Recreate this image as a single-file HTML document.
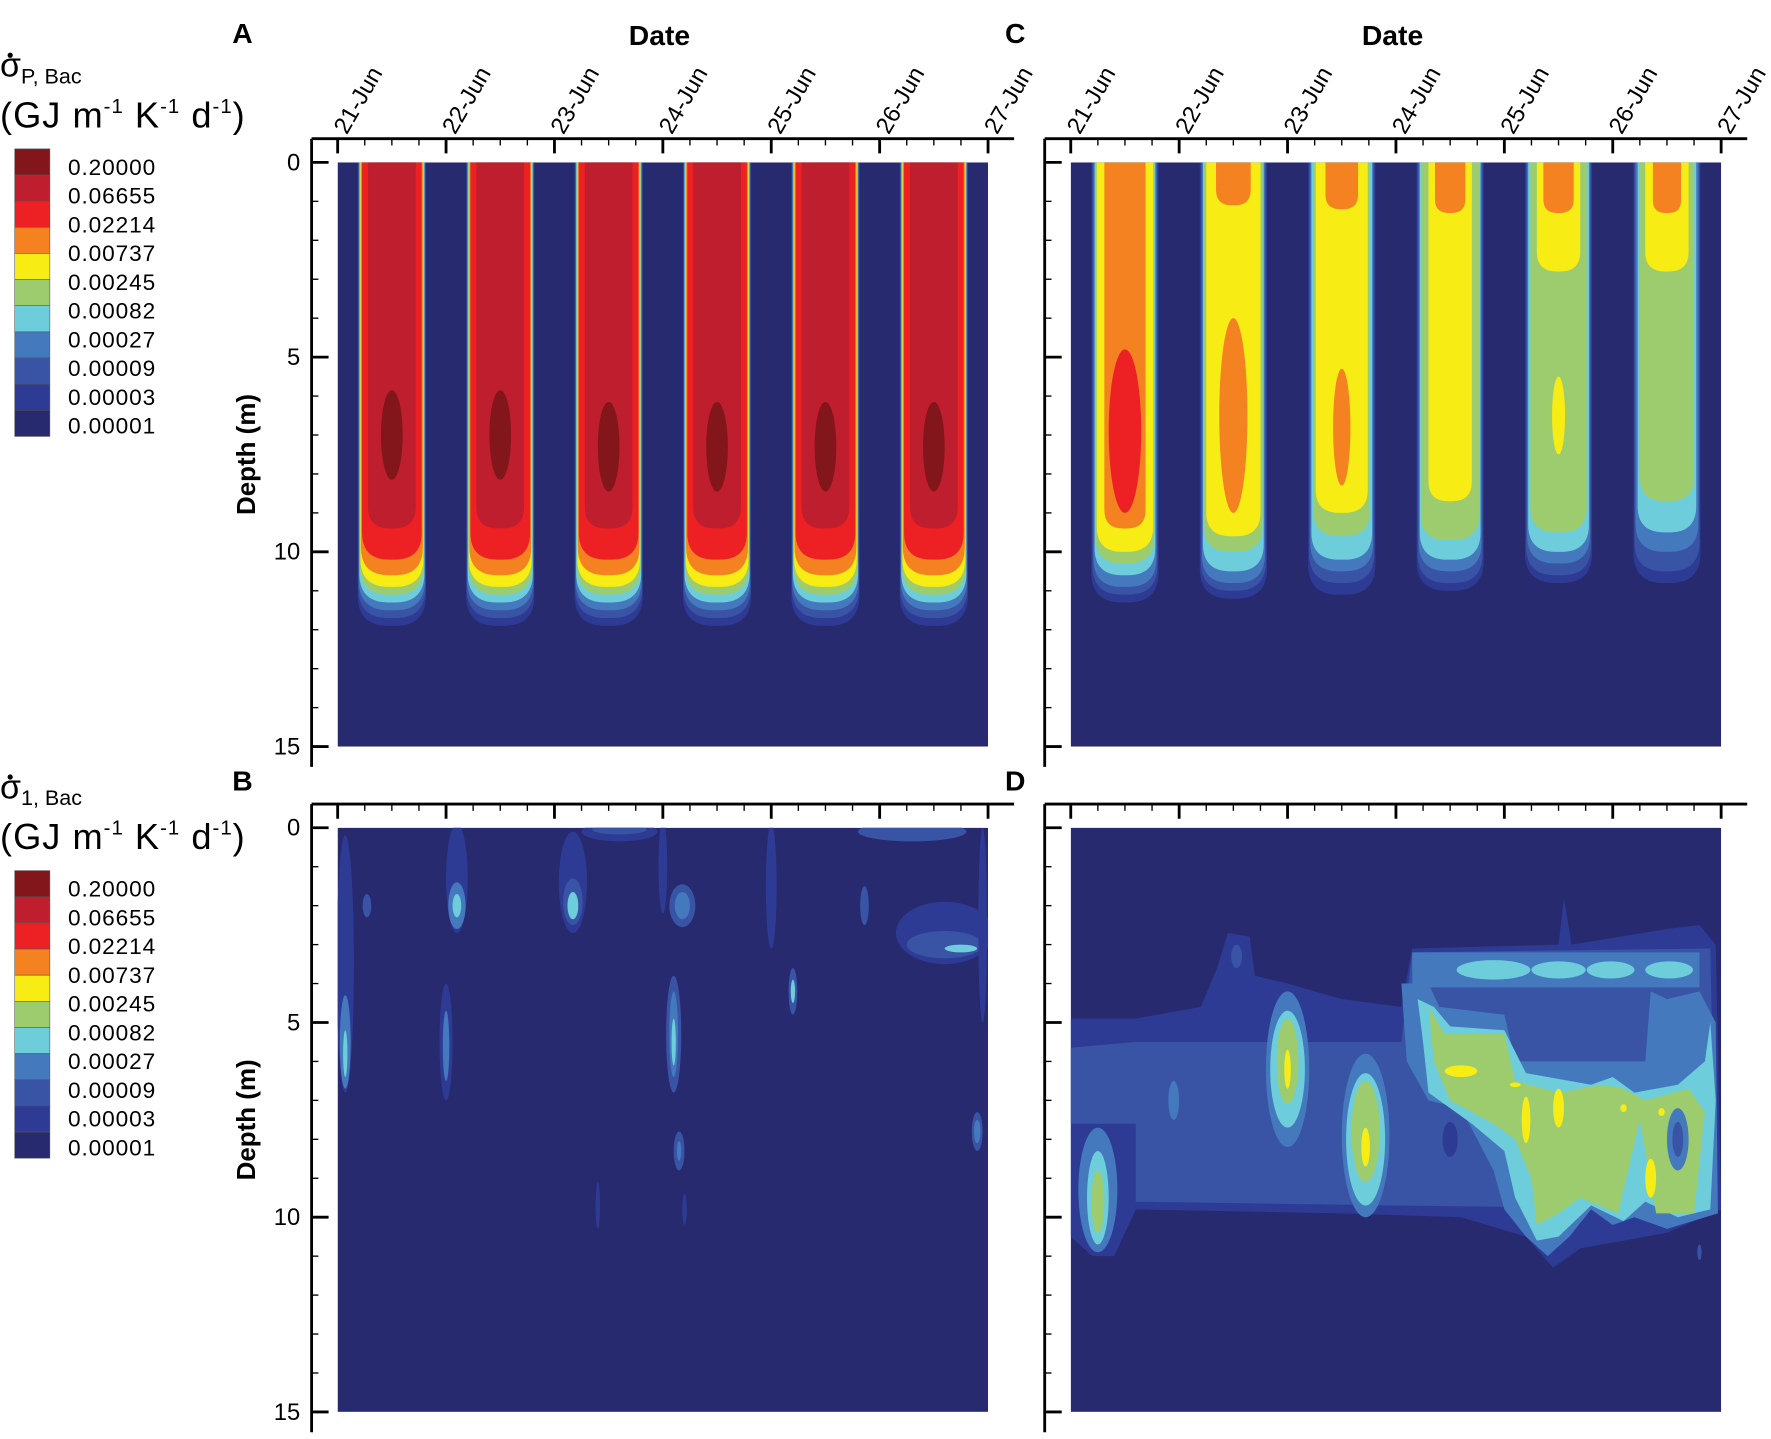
<!DOCTYPE html>
<html><head><meta charset="utf-8"><style>
html,body{margin:0;padding:0;background:#fff;}
svg{display:block;font-family:"Liberation Sans",Arial,sans-serif;}
</style></head><body>
<svg id="fig" width="1771" height="1439" viewBox="0 0 1563 1276" preserveAspectRatio="none" xmlns="http://www.w3.org/2000/svg"></svg>
<script>
// ---- data ----
const levelColors = ["#272a6f","#2e3b95","#3954a4","#4479be","#6dcddb","#9dcc6f","#f7ec13","#f58220","#ed2024","#be1e2d","#82161a"];
const legendLabels = ["0.20000","0.06655","0.02214","0.00737","0.00245","0.00082","0.00027","0.00009","0.00003","0.00001"];
const dateLabels = ["21-Jun","22-Jun","23-Jun","24-Jun","25-Jun","26-Jun","27-Jun"];
const depthTicks = [0,5,10,15];
// Panel A: columns per day; level, bottom depth, half-width (days)
const aDays = [21,22,23,24,25,26];
const aLevels = [1,2,3,4,5,6,7,8,9];
const aBottoms = [11.9,11.7,11.5,11.3,11.1,10.9,10.6,10.2,9.4];
const aHalfW = [0.315,0.31,0.305,0.30,0.295,0.29,0.285,0.275,0.22];
const aCoreDepth = [7.0,7.0,7.3,7.3,7.3,7.3];
// Panel C: [dayIndex, level, top, bottom, halfWidth, kind]
const cShapes = [
 [0,1,0,11.3,.31,"c"],[0,2,0,11.1,.30,"c"],[0,3,0,10.9,.29,"c"],[0,4,0,10.6,.28,"c"],[0,5,0,10.3,.27,"c"],[0,6,0,10.0,.26,"c"],[0,7,0,9.4,.19,"c"],[0,8,4.8,9.0,.15,"e"],
 [1,1,0,11.2,.31,"c"],[1,2,0,11.0,.30,"c"],[1,3,0,10.8,.29,"c"],[1,4,0,10.5,.28,"c"],[1,5,0,10.0,.27,"c"],[1,6,0,9.6,.25,"c"],[1,7,0,1.1,.16,"c"],[1,7,4.0,9.0,.13,"e"],
 [2,1,0,11.1,.31,"c"],[2,2,0,10.8,.30,"c"],[2,3,0,10.5,.29,"c"],[2,4,0,10.2,.28,"c"],[2,5,0,9.6,.26,"c"],[2,6,0,9.0,.24,"c"],[2,7,0,1.2,.15,"c"],[2,7,5.3,8.3,.08,"e"],
 [3,1,0,11.0,.31,"c"],[3,2,0,10.8,.30,"c"],[3,3,0,10.5,.29,"c"],[3,4,0,10.2,.28,"c"],[3,5,0,9.7,.27,"c"],[3,6,0,8.7,.20,"c"],[3,7,0,1.3,.14,"c"],
 [4,1,0,10.8,.31,"c"],[4,2,0,10.6,.30,"c"],[4,3,0,10.3,.29,"c"],[4,4,0,10.0,.28,"c"],[4,5,0,9.5,.26,"c"],[4,6,0,2.8,.20,"c"],[4,6,5.5,7.5,.06,"e"],[4,7,0,1.3,.14,"c"],
 [5,1,0,10.8,.31,"c"],[5,2,0,10.5,.30,"c"],[5,3,0,10.0,.29,"c"],[5,4,0,9.5,.27,"c"],[5,5,0,8.7,.25,"c"],[5,6,0,2.8,.20,"c"],[5,7,0,1.3,.13,"c"]
];
// Panel B blobs: [day, depth, rxDays, ryM, level]
const bBlobs = [
 [21.07,3.5,.08,3.3,1],[21.07,5.5,.05,1.2,3],[21.07,5.8,.02,.6,4],[21.27,2.0,.04,.3,2],
 [22.1,1.3,.1,1.4,1],[22.1,2.0,.08,.6,3],[22.1,2.0,.04,.3,4],
 [23.17,1.4,.13,1.3,1],[23.17,1.9,.09,.6,2],[23.17,2.0,.05,.35,4],
 [23.6,0.1,.35,.25,1],[23.6,0.05,.25,.12,2],
 [24.0,1.0,.04,1.2,1],[24.18,2.0,.12,.55,2],[24.18,2.0,.07,.35,3],
 [24.1,5.3,.07,1.5,2],[24.1,5.3,.04,1.1,3],[24.1,5.5,.02,.6,4],
 [25.0,1.5,.05,1.6,1],[25.2,4.2,.04,.6,2],[25.2,4.2,.02,.3,4],
 [26.3,0.1,.5,.25,2],[26.6,2.7,.45,.8,1],[26.6,3.0,.35,.35,2],[26.75,3.1,.15,.1,4],[26.95,2.5,.04,2.5,1],
 [22.0,5.5,.06,1.5,1],[22.0,5.6,.03,.9,3],[24.15,8.3,.05,.5,2],[24.15,8.3,.02,.25,3],
 [23.4,9.7,.02,.6,1],[24.2,9.8,.02,.4,1],[26.9,7.8,.05,.5,2],[26.9,7.8,.03,.3,3],[25.86,2.0,.04,.5,2]
];
// Panel D polygons: [day, depth] vertices
const dL1 = [[21,4.9],[21.6,4.9],[22.2,4.6],[22.35,3.6],[22.45,2.7],[22.65,2.8],[22.7,3.8],[23.0,4.0],[23.5,4.4],[24.05,4.6],[24.15,3.1],[25.5,3.0],[25.55,1.8],[25.62,3.0],[26.5,2.6],[26.8,2.5],[26.95,3.0],[27,9.8],[26.5,10.4],[25.7,10.8],[25.45,11.3],[25.2,10.5],[24.6,10.0],[23.5,9.9],[21.6,9.8],[21.4,11.0],[21.2,11.0],[21,10.5]];
const dL2 = [[21,5.65],[21.6,5.5],[24.05,5.5],[24.15,3.2],[26.9,3.1],[26.95,9.8],[24.0,9.7],[21.6,9.6],[21.6,7.6],[21,7.6]];
const dL3 = [[24.05,4.0],[24.3,4.0],[24.4,4.6],[25.0,4.8],[25.1,6.0],[26.3,6.0],[26.35,4.2],[26.5,4.4],[26.8,4.2],[26.95,5.0],[26.97,9.9],[26.5,10.3],[26.2,10.0],[26.0,10.2],[25.8,9.8],[25.6,10.5],[25.4,11.0],[25.2,10.5],[25.0,9.8],[24.9,8.8],[24.6,7.2],[24.3,7.0],[24.1,6.0]];
const dL3Band = [[24.15,3.2],[26.8,3.2],[26.8,4.1],[24.15,4.1]];
const dL4 = [[24.2,4.4],[24.35,4.6],[24.5,5.1],[25.0,5.2],[25.2,6.3],[25.8,6.6],[26.0,6.4],[26.2,6.8],[26.6,6.6],[26.85,6.0],[26.9,5.0],[26.95,7.0],[26.9,9.8],[26.6,10.0],[26.3,9.6],[26.1,10.1],[25.8,9.7],[25.5,10.5],[25.3,10.6],[25.1,9.5],[25.0,8.3],[24.7,7.6],[24.3,6.8],[24.25,5.5]];
const dL5 = [[24.3,4.6],[24.45,5.3],[25.0,5.3],[25.1,6.5],[25.5,6.8],[25.9,6.6],[26.1,6.7],[26.3,7.0],[26.7,6.7],[26.85,7.3],[26.75,9.9],[26.4,9.9],[26.25,7.5],[26.05,9.9],[25.7,9.5],[25.5,9.9],[25.3,10.2],[25.25,9.0],[25.1,8.0],[24.9,7.6],[24.5,7.0],[24.35,6.0]];
// Panel D ellipse blobs: [day, depth, rxDays, ryM, level]
const dBlobs = [
 [24.5,8.0,.07,.45,1],[26.6,8.0,.1,.8,3],[26.6,8.0,.05,.45,2],
 [24.9,3.65,.34,.25,4],[25.5,3.65,.25,.22,4],[25.98,3.65,.22,.22,4],[26.52,3.65,.22,.22,4],
 [23.0,6.2,.2,2.0,3],[23.0,6.2,.16,1.5,4],[23.0,6.0,.1,1.1,5],[23.0,6.2,.03,.5,6],
 [23.72,7.9,.22,2.1,3],[23.72,8.0,.18,1.7,4],[23.72,7.8,.13,1.3,5],[23.72,8.2,.04,.5,6],
 [21.25,9.3,.18,1.6,3],[21.25,9.5,.1,1.2,4],[21.25,9.6,.06,.8,5],
 [21.95,7.0,.05,.5,3],[22.53,3.3,.05,.3,2],[26.8,10.9,.02,.2,2],
 [24.6,6.25,.15,.15,6],[25.1,6.6,.05,.06,6],[25.2,7.5,.04,.6,6],[25.5,7.2,.05,.5,6],[26.1,7.2,.03,.1,6],[26.45,7.3,.03,.1,6],[26.35,9.0,.05,.5,6]
];
// ---- drawing ----
const NS="http://www.w3.org/2000/svg";
const svg=document.getElementById("fig");
function mk(tag,attrs,parent){const e=document.createElementNS(NS,tag);for(const k in attrs)e.setAttribute(k,attrs[k]);(parent||svg).appendChild(e);return e;}
const panels={
 A:{x0:298,x1:872,y0:144,y1:662,ax:275,ay:123,lx:205,ly:38},
 C:{x0:945,x1:1519,y0:144,y1:662,ax:922,ay:123,lx:887,ly:38},
 B:{x0:298,x1:872,y0:734,y1:1252,ax:275,ay:713,lx:205,ly:701},
 D:{x0:945,x1:1519,y0:734,y1:1252,ax:922,ay:713,lx:887,ly:701}
};
function X(p,day){return p.x0+(day-21)*(p.x1-p.x0)/6;}
function Y(p,d){return p.y0+d*(p.y1-p.y0)/15;}
function colPath(p,center,hw,top,bottom){
 const x1=X(p,center-hw),x2=X(p,center+hw),yt=Y(p,top),yb=Y(p,bottom);
 const r=Math.min((x2-x1)*0.45,yb-yt);
 return `M${x1},${yt} L${x1},${yb-r} Q${x1},${yb} ${x1+r},${yb} L${x2-r},${yb} Q${x2},${yb} ${x2},${yb-r} L${x2},${yt} Z`;
}
function polyPts(p,pts){return pts.map(q=>X(p,q[0])+","+Y(p,q[1])).join(" ");}
Object.keys(panels).forEach(k=>{
 const p=panels[k];
 const cp=mk("clipPath",{id:"clip"+k});
 mk("rect",{x:p.x0,y:p.y0,width:p.x1-p.x0,height:p.y1-p.y0},cp);
 const g=mk("g",{"clip-path":"url(#clip"+k+")"});
 
 
 p.g=g;
 const bg=mk("rect",{x:p.x0,y:p.y0,width:p.x1-p.x0,height:p.y1-p.y0,fill:levelColors[0]},g);
 
 
});
// Panel A
aDays.forEach((d,i)=>{
 const p=panels.A,c=d+0.5;
 aLevels.forEach((lv,j)=>{
  const e=mk("path",{d:colPath(p,c,aHalfW[j],0,aBottoms[j]),fill:levelColors[lv]},p.g);
  
  
 });
 const e=mk("ellipse",{cx:X(p,c),cy:Y(p,aCoreDepth[i]),rx:X(p,c+0.1)-X(p,c),ry:Y(p,1.15)-Y(p,0),fill:levelColors[10]},p.g);
 
 
});
// Panel C
cShapes.forEach(s=>{
 const p=panels.C,c=aDays[s[0]]+0.5;
 let e;
 if(s[5]==="c") e=mk("path",{d:colPath(p,c,s[4],s[2],s[3]),fill:levelColors[s[1]]},p.g);
 else e=mk("ellipse",{cx:X(p,c),cy:(Y(p,s[2])+Y(p,s[3]))/2,rx:X(p,c+s[4])-X(p,c),ry:(Y(p,s[3])-Y(p,s[2]))/2,fill:levelColors[s[1]]},p.g);
 
 
});
function drawBlobs(p,list){
 list.forEach(b=>{
  const e=mk("ellipse",{cx:X(p,b[0]),cy:Y(p,b[1]),rx:X(p,b[0]+b[2])-X(p,b[0]),ry:Y(p,b[3])-Y(p,0),fill:levelColors[b[4]]},p.g);
  
  
 });
}
drawBlobs(panels.B,bBlobs);
// Panel D
[[dL1,1],[dL2,2],[dL3,3],[dL3Band,3],[dL4,4],[dL5,5]].forEach(q=>{
 const e=mk("polygon",{points:polyPts(panels.D,q[0]),fill:levelColors[q[1]],"stroke-linejoin":"round"},panels.D.g);
 
 
});
drawBlobs(panels.D,dBlobs);
// Axes
Object.keys(panels).forEach(k=>{
 const p=panels[k];
 const ax=mk("g",{stroke:"#000","stroke-width":2.5});
 
 
 const right=p.x1+23,bottom=p.y1+18;
 mk("line",{x1:p.ax,y1:p.ay,x2:right,y2:p.ay},ax);
 mk("line",{x1:p.ax,y1:p.ay,x2:p.ax,y2:bottom},ax);
 for(let d=0;d<=6;d+=0.25){
  const x=X(p,21+d),major=Number.isInteger(d);
  mk("line",{x1:x,y1:p.ay,x2:x,y2:p.ay+(major?13:6),"stroke-width":major?2.5:1.2},ax);
 }
 for(let d=0;d<=15;d++){
  const y=Y(p,d),major=d%5===0;
  mk("line",{x1:p.ax,y1:y,x2:p.ax+(major?15:6),y2:y,"stroke-width":major?2.5:1.2},ax);
 }
 if(k==="A"||k==="B"){
  depthTicks.forEach(v=>{
   const t=mk("text",{x:p.ax-10,y:Y(p,v)+7,"text-anchor":"end","font-size":21});
   t.textContent=v;
   
   
  });
  const t=mk("text",{transform:`translate(225,${(p.y0+p.y1)/2}) rotate(-90)`,"text-anchor":"middle","font-size":23,"font-weight":"bold"});
  t.textContent="Depth (m)";
  
  
 }
 if(k==="A"||k==="C"){
  dateLabels.forEach((s,i)=>{
   const x=X(p,21+i);
   const t=mk("text",{transform:`translate(${x+8},${p.ay-3}) rotate(-60)`,"font-size":21});
   t.textContent=s;
   
   
  });
  const t=mk("text",{x:(p.x0+p.x1)/2-3,y:40,"text-anchor":"middle","font-size":25,"font-weight":"bold"});
  t.textContent="Date";
  
  
 }
 const L=mk("text",{x:p.lx,y:p.ly,"font-size":25,"font-weight":"bold"});
 L.textContent=k;
 
 
});
// Legends
[[0,"P, Bac"],[640,"1, Bac"]].forEach(q=>{
 const oy=q[0];
 const g=mk("g",{});
 
 
 const t=mk("text",{x:0,y:68+oy,"font-size":30},g);
 t.innerHTML=`σ<tspan font-size="19" dy="6">${q[1]}</tspan>`;
 
 
 mk("circle",{cx:9,cy:49+oy,r:2.3,fill:"#000"},g);
 const u=mk("text",{x:0,y:113+oy,"font-size":32,"textLength":216,"lengthAdjust":"spacing"},g);
 u.innerHTML=`(GJ m<tspan font-size="18" dy="-13">-1</tspan><tspan dy="13"> K</tspan><tspan font-size="18" dy="-13">-1</tspan><tspan dy="13"> d</tspan><tspan font-size="18" dy="-13">-1</tspan><tspan dy="13">)</tspan>`;
 
 
 const top=132+oy,h=255/11;
 for(let i=0;i<11;i++){
  const r=mk("rect",{x:13,y:top+i*h,width:31,height:h,fill:levelColors[10-i],stroke:"#555","stroke-width":0.5},g);
  
  
 }
 legendLabels.forEach((s,i)=>{
  const l=mk("text",{x:60,y:top+16+i*25.5+7,"font-size":20,"letter-spacing":"0.8"},g);
  l.textContent=s;
  
  
 });
});
</script>
</body></html>
